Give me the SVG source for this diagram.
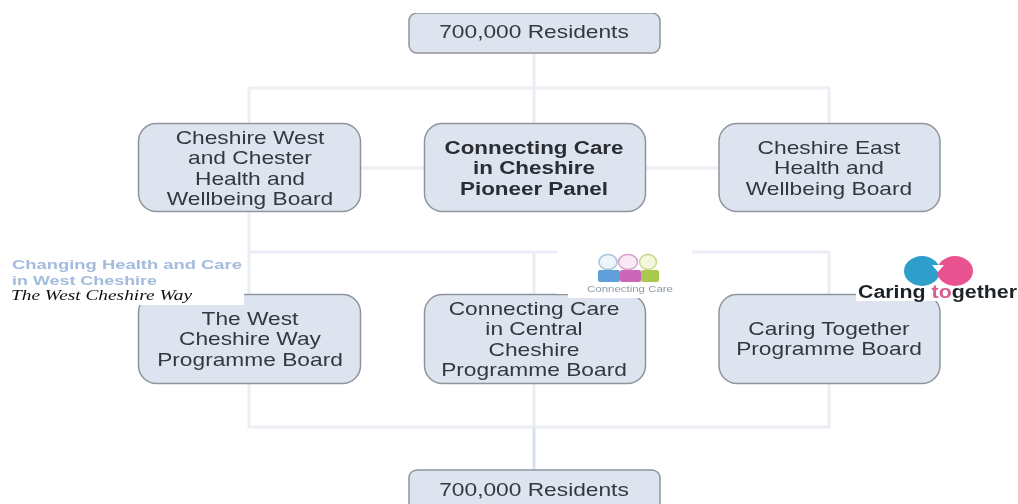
<svg xmlns="http://www.w3.org/2000/svg" width="1018" height="504" viewBox="0 0 1018 504">
<defs><filter id="soft" x="0" y="0" width="100%" height="100%"><feGaussianBlur stdDeviation="0.55"/></filter></defs>
<style>
.box{fill:#dde4ef;stroke:#8f959c;stroke-width:1.5}
.t{font-family:"Liberation Sans",Arial,sans-serif;font-size:17.5px;fill:#33383e;text-anchor:middle}
.b{font-weight:bold;fill:#2a2e33}
.c{fill:none;stroke:#ebeef4;stroke-width:3;stroke-linejoin:round}
.m{stroke:#d8e0f0}
.lg{font-family:"Liberation Sans",Arial,sans-serif;font-weight:bold;font-size:13px;fill:#a3bcdd}
</style>
<rect width="1018" height="504" fill="#fff"/>
<g filter="url(#soft)">
<g id="connectors">
<path class="c" d="M534 53V123M249 123V88H829V123M361 168H424M645 168H719M249 212V252H829V294M534 252V294M249 252V294M249 384V427H829V384M534 384V427"/>
<path class="c m" d="M534 427V470"/>
</g>
<g id="top-residents"><rect class="box" x="409" y="13" width="251" height="40" rx="8"/><text class="t" transform="translate(534 38) scale(1.3 1)">700,000 Residents</text></g>
<g id="cw-board"><rect class="box" x="138.500" y="123.500" width="222" height="88" rx="18"/><text class="t" transform="translate(250 144) scale(1.3 1)">Cheshire West<tspan x="0" dy="20.300">and Chester</tspan><tspan x="0" dy="20.300">Health and</tspan><tspan x="0" dy="20.300">Wellbeing Board</tspan></text></g>
<g id="pioneer-panel"><rect class="box" x="424.500" y="123.500" width="221" height="88" rx="18"/><text class="t b" transform="translate(534 154) scale(1.28 1)">Connecting Care<tspan x="0" dy="20.300">in Cheshire</tspan><tspan x="0" dy="20.300">Pioneer Panel</tspan></text></g>
<g id="ce-board"><rect class="box" x="719" y="123.500" width="221" height="88" rx="18"/><text class="t" transform="translate(829 154) scale(1.3 1)">Cheshire East<tspan x="0" dy="20.300">Health and</tspan><tspan x="0" dy="20.300">Wellbeing Board</tspan></text></g>
<g id="wcw-board"><rect class="box" x="138.500" y="294.500" width="222" height="89" rx="18"/><text class="t" transform="translate(250 325) scale(1.3 1)">The West<tspan x="0" dy="20.300">Cheshire Way</tspan><tspan x="0" dy="20.300">Programme Board</tspan></text></g>
<g id="ccc-board"><rect class="box" x="424.500" y="294.500" width="221" height="89" rx="18"/><text class="t" transform="translate(534 315) scale(1.3 1)">Connecting Care<tspan x="0" dy="20.300">in Central</tspan><tspan x="0" dy="20.300">Cheshire</tspan><tspan x="0" dy="20.300">Programme Board</tspan></text></g>
<g id="ct-board"><rect class="box" x="719" y="294.500" width="221" height="89" rx="18"/><text class="t" transform="translate(829 335) scale(1.3 1)">Caring Together<tspan x="0" dy="20.300">Programme Board</tspan></text></g>
<g id="bottom-residents"><rect class="box" x="409" y="470" width="251" height="45" rx="8"/><text class="t" transform="translate(534 496) scale(1.3 1)">700,000 Residents</text></g>
<g id="logo-west">
<rect x="8" y="253" width="236" height="52" fill="#fff"/>
<text class="lg" x="12" y="269" textLength="230" lengthAdjust="spacingAndGlyphs">Changing Health and Care</text>
<text class="lg" x="12" y="285" textLength="145" lengthAdjust="spacingAndGlyphs">in West Cheshire</text>
<text x="11" y="300" font-family="'Liberation Serif',serif" font-size="15" font-style="italic" fill="#111" textLength="181" lengthAdjust="spacingAndGlyphs">The West Cheshire Way</text>
</g>
<g id="logo-connecting">
<rect x="557" y="240" width="135" height="54" fill="#fff"/><rect x="568" y="294" width="124" height="4" fill="#fff"/>
<ellipse cx="608" cy="262" rx="9" ry="7.500" fill="#eef5fa" stroke="#a8c4d8" stroke-width="1.500"/>
<ellipse cx="628" cy="262" rx="9.500" ry="7.500" fill="#f8eaf4" stroke="#d9a0cc" stroke-width="1.500"/>
<ellipse cx="648" cy="262" rx="8.500" ry="7.500" fill="#f4f7dc" stroke="#c9d68e" stroke-width="1.500"/>
<rect x="598" y="270" width="22" height="12" rx="2" fill="#5f9fdc"/>
<rect x="620" y="270" width="21" height="12" rx="2" fill="#cc66b8"/>
<rect x="641" y="270" width="18" height="12" rx="2" fill="#a9c94e"/>
<text x="630" y="291.500" text-anchor="middle" font-family="'Liberation Sans',Arial,sans-serif" font-size="9" fill="#8b9aa5" textLength="86" lengthAdjust="spacingAndGlyphs">Connecting Care</text>
</g>
<g id="logo-caring">
<rect x="856" y="253" width="162" height="48" fill="#fff"/>
<ellipse cx="922" cy="271" rx="18" ry="15" fill="#2d9ecb"/>
<ellipse cx="955" cy="271" rx="18" ry="15" fill="#e8528f"/>
<path d="M932 265l6 7 6-7z" fill="#fff"/>
<text x="858" y="298" font-family="'Liberation Sans',Arial,sans-serif" font-size="18" font-weight="bold" fill="#1f2428" textLength="159" lengthAdjust="spacingAndGlyphs">Caring <tspan fill="#d9608f">to</tspan>gether</text>
</g>
</g>
</svg>
